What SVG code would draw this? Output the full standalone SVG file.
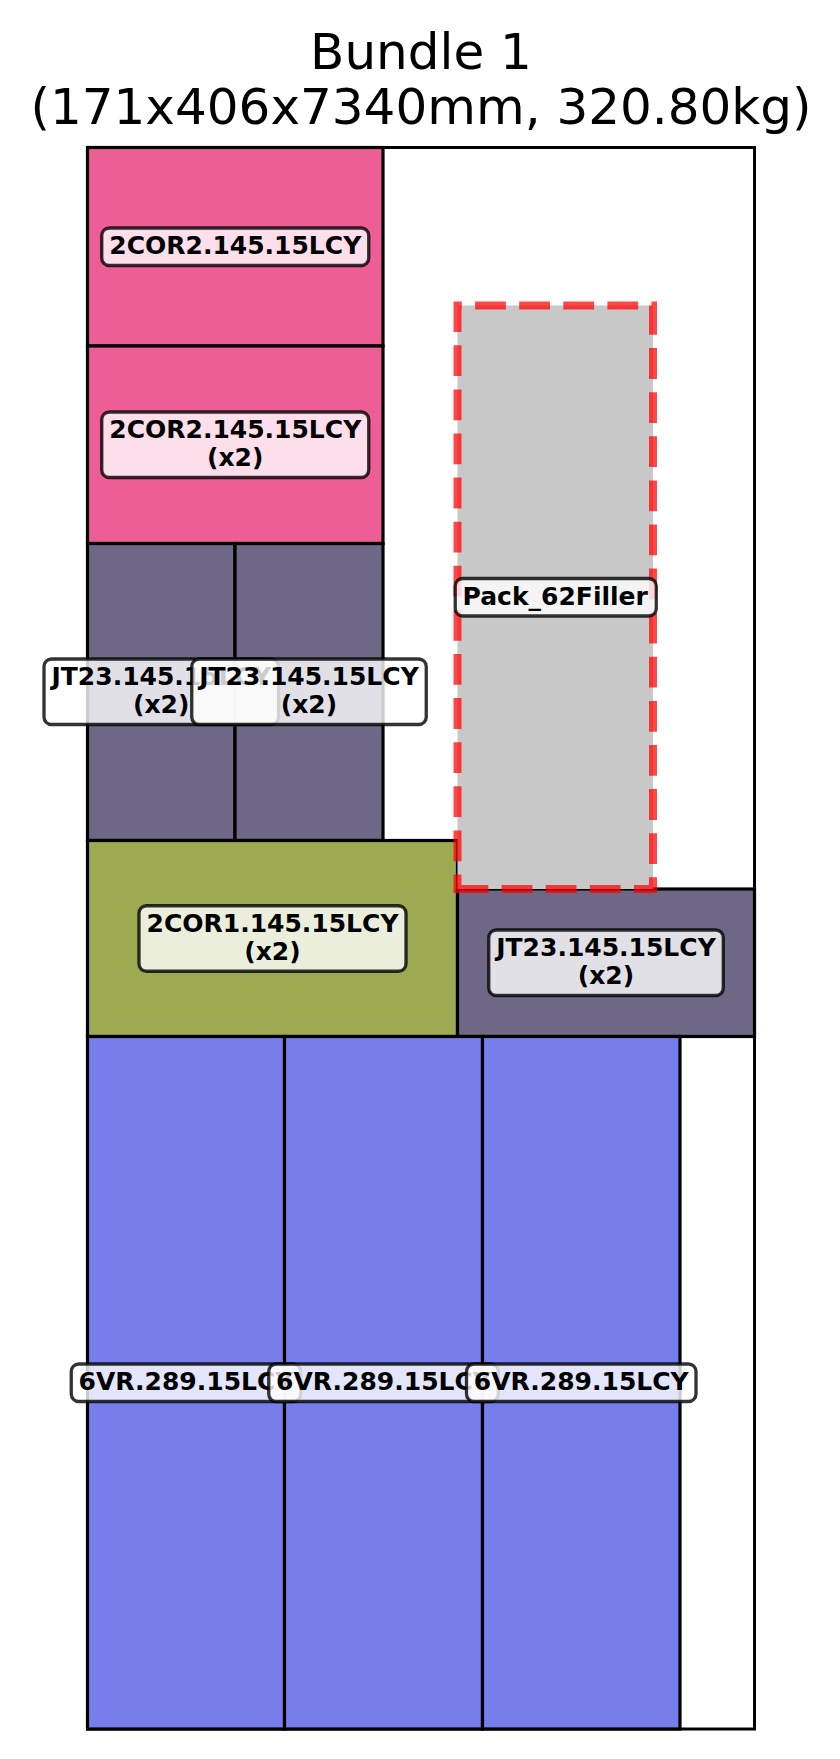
<svg xmlns="http://www.w3.org/2000/svg" width="840" height="1759" viewBox="0 0 840 1759">
<style>
.t{font-family:"DejaVu Sans","Liberation Sans",sans-serif;font-size:50px;fill:#000;text-anchor:middle}
.p{stroke:#000;stroke-width:3.2}
.pink{fill:#ee5e96}
.jt{fill:#6e6786}
.ol{fill:#9eaa52}
.bl{fill:#757eeb}
.lb{fill:#fff;fill-opacity:0.8;stroke:#000;stroke-opacity:0.8;stroke-width:3.3}
.lt{font-family:"DejaVu Sans","Liberation Sans",sans-serif;font-size:25px;font-weight:bold;fill:#000;text-anchor:middle}
</style>
<rect width="840" height="1759" fill="#fff"/>
<g id="title">
<text class="t" x="421" y="68.5">Bundle 1</text>
<text class="t" x="421" y="124">(171x406x7340mm, 320.80kg)</text>
</g>
<g id="bundle">
<rect x="87.5" y="147.5" width="667" height="1581.5" fill="#fff" stroke="#000" stroke-width="3"/>
</g>
<g id="pieces">
<rect id="pink1" class="p pink" x="87.5" y="147.5" width="295.5" height="198.5"/>
<rect id="pink2" class="p pink" x="87.5" y="346" width="295.5" height="197.5"/>
<rect id="jt1" class="p jt" x="87.5" y="543.5" width="147.5" height="297"/>
<rect id="jt2" class="p jt" x="235" y="543.5" width="148" height="297"/>
<rect id="olive" class="p ol" x="87.5" y="840.5" width="370" height="196"/>
<rect id="jt3" class="p jt" x="457.5" y="889" width="297" height="147.5"/>
<rect id="blue1" class="p bl" x="87.5" y="1036.5" width="197" height="692.5"/>
<rect id="blue2" class="p bl" x="284.5" y="1036.5" width="198" height="692.5"/>
<rect id="blue3" class="p bl" x="482.5" y="1036.5" width="197.5" height="692.5"/>
<g id="filler">
<rect x="457.5" y="305.5" width="195.5" height="583.5" fill="#c8c8c8"/>
<path d="M457.5,889 H653 V305.5 H457.5 Z" fill="none" stroke="#f00" stroke-opacity="0.72" stroke-width="8" stroke-dasharray="30.8 13.3"/>
</g>
</g>
<g id="labels">
<g id="label-pink1"><rect class="lb" x="101.75" y="228" width="267" height="37.5" rx="7.5"/><text class="lt" x="235.25" y="254.25">2COR2.145.15LCY</text></g>
<g id="label-pink2"><rect class="lb" x="101.75" y="412" width="267" height="65.5" rx="7.5"/><text class="lt" x="235.25" y="437.5">2COR2.145.15LCY</text><text class="lt" x="235.25" y="465.5">(x2)</text></g>
<g id="label-jt1"><rect class="lb" x="44" y="659" width="234.5" height="65.5" rx="7.5"/><text class="lt" x="161.25" y="685">JT23.145.15LCY</text><text class="lt" x="161.25" y="713">(x2)</text></g>
<g id="label-jt2"><rect class="lb" x="191.75" y="659" width="234.5" height="65.5" rx="7.5"/><text class="lt" x="309" y="685">JT23.145.15LCY</text><text class="lt" x="309" y="713">(x2)</text></g>
<g id="label-olive"><rect class="lb" x="139" y="905.75" width="267" height="65.5" rx="7.5"/><text class="lt" x="272.5" y="931.5">2COR1.145.15LCY</text><text class="lt" x="272.5" y="959.5">(x2)</text></g>
<g id="label-jt3"><rect class="lb" x="488.75" y="930" width="234.5" height="65.5" rx="7.5"/><text class="lt" x="606" y="956">JT23.145.15LCY</text><text class="lt" x="606" y="984">(x2)</text></g>
<g id="label-blue1"><rect class="lb" x="71.25" y="1364" width="229.5" height="37.5" rx="7.5"/><text class="lt" x="186" y="1390.25">6VR.289.15LCY</text></g>
<g id="label-blue2"><rect class="lb" x="268.75" y="1364" width="229.5" height="37.5" rx="7.5"/><text class="lt" x="383.5" y="1390.25">6VR.289.15LCY</text></g>
<g id="label-blue3"><rect class="lb" x="466.5" y="1364" width="229.5" height="37.5" rx="7.5"/><text class="lt" x="581.25" y="1390.25">6VR.289.15LCY</text></g>
<g id="label-filler"><rect class="lb" x="455.25" y="578.5" width="201" height="37.5" rx="7.5"/><text class="lt" x="555.25" y="604.75">Pack_62Filler</text></g>
</g>
</svg>
